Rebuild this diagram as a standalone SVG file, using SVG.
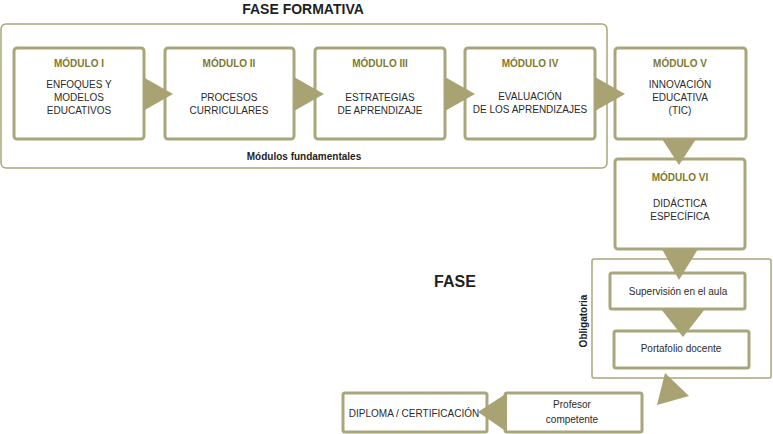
<svg xmlns="http://www.w3.org/2000/svg" width="773" height="434" viewBox="0 0 773 434">
<style>
.box{fill:#fff;stroke:#aaa67c;stroke-width:3}
.frame{fill:none;stroke:#aaa67c;stroke-width:1.5}
.arr{fill:#a9a374}
.t{font-family:"Liberation Sans",Arial,sans-serif;font-size:10px;fill:#2b2b2b;text-anchor:middle}
.h{font-family:"Liberation Sans",Arial,sans-serif;font-size:10px;font-weight:bold;fill:#7e7a2e;text-anchor:middle}
.b{font-family:"Liberation Sans",Arial,sans-serif;font-weight:bold;fill:#1f1f1f;text-anchor:middle}
</style>
<rect width="773" height="434" fill="#fff"/>
<text class="b" x="303" y="14" font-size="14">FASE FORMATIVA</text>
<g id="fundamentales">
<rect class="frame" x="1" y="24" width="606" height="144" rx="5"/>
<text class="b" x="304" y="160" font-size="10">Módulos fundamentales</text>
</g>
<g id="modulo1">
<rect class="box" x="14" y="48" width="130" height="91" rx="3"/>
<text class="h" x="79" y="67">MÓDULO I</text>
<text class="t" x="79" y="88">ENFOQUES Y</text>
<text class="t" x="79" y="101">MODELOS</text>
<text class="t" x="79" y="114">EDUCATIVOS</text>
</g>
<g id="modulo2">
<rect class="box" x="165" y="48" width="129" height="91" rx="3"/>
<text class="h" x="229" y="67">MÓDULO II</text>
<text class="t" x="229" y="101">PROCESOS</text>
<text class="t" x="229" y="114">CURRICULARES</text>
</g>
<g id="modulo3">
<rect class="box" x="315" y="48" width="130" height="91" rx="3"/>
<text class="h" x="380" y="67">MÓDULO III</text>
<text class="t" x="380" y="101">ESTRATEGIAS</text>
<text class="t" x="380" y="114">DE APRENDIZAJE</text>
</g>
<g id="modulo4">
<rect class="box" x="465" y="48" width="130" height="91" rx="3"/>
<text class="h" x="530" y="67">MÓDULO IV</text>
<text class="t" x="530" y="100">EVALUACIÓN</text>
<text class="t" x="530" y="113">DE LOS APRENDIZAJES</text>
</g>
<g id="modulo5">
<rect class="box" x="615" y="48" width="131" height="91" rx="3"/>
<text class="h" x="680" y="67">MÓDULO V</text>
<text class="t" x="680" y="88">INNOVACIÓN</text>
<text class="t" x="680" y="101">EDUCATIVA</text>
<text class="t" x="680" y="114">(TIC)</text>
</g>
<g id="modulo6">
<rect class="box" x="615" y="159" width="130" height="90" rx="3"/>
<text class="h" x="680" y="181">MÓDULO VI</text>
<text class="t" x="680" y="207">DIDÁCTICA</text>
<text class="t" x="680" y="220">ESPECÍFICA</text>
</g>
<text class="b" x="455" y="287" font-size="16">FASE</text>
<g id="obligatoria">
<rect class="frame" x="592" y="259" width="179" height="119" rx="2"/>
<text class="b" font-size="10" transform="translate(587,321) rotate(-90)">Obligatoria</text>
</g>
<g id="supervision">
<rect class="box" x="610" y="273" width="135" height="36" rx="2"/>
<text class="t" x="678" y="295">Supervisión en el aula</text>
</g>
<g id="portafolio">
<rect class="box" x="614" y="331" width="135" height="37" rx="2"/>
<text class="t" x="681" y="352">Portafolio docente</text>
</g>
<g id="profesor">
<rect class="box" x="505" y="393" width="137" height="39" rx="2"/>
<text class="t" x="572" y="408">Profesor</text>
<text class="t" x="572" y="423">competente</text>
</g>
<g id="diploma">
<rect class="box" x="343" y="393" width="144" height="39" rx="2"/>
<text class="t" x="414" y="417">DIPLOMA / CERTIFICACIÓN</text>
</g>
<g id="connectors">
<polygon class="arr" points="143,77 173,94 143,111"/>
<polygon class="arr" points="294,77 324,94 294,111"/>
<polygon class="arr" points="445,77 475,94 445,111"/>
<polygon class="arr" points="595,77 625,94 595,111"/>
<polygon class="arr" points="662,139 696,139 679,165"/>
<polygon class="arr" points="662,249 698,249 679,280"/>
<polygon class="arr" points="661,309 705,309 683,337"/>
<polygon class="arr" points="665,373 689,396 657,405"/>
<polygon class="arr" points="507,393 478,412 507,432"/>
</g>
</svg>
